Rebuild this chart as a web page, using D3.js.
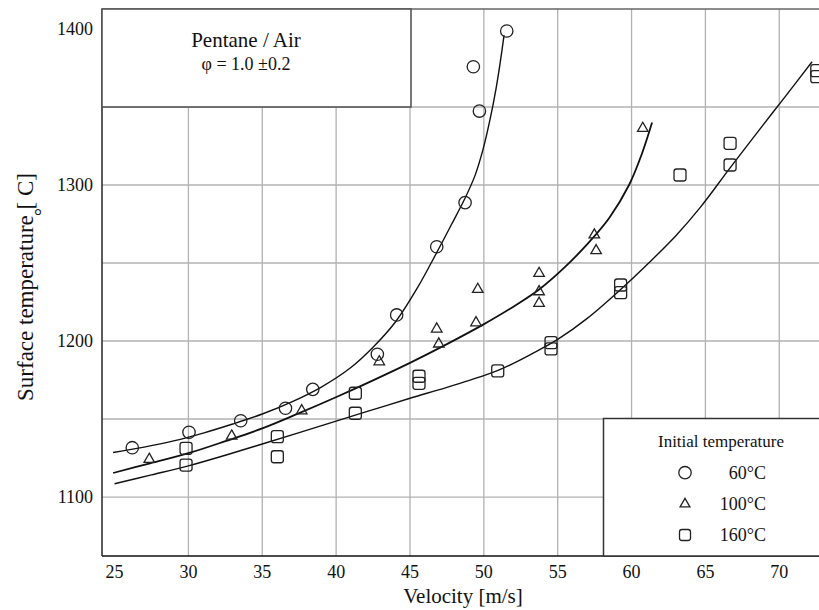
<!DOCTYPE html>
<html>
<head>
<meta charset="utf-8">
<script src="https://cdn.jsdelivr.net/npm/d3@7"></script>
<style>
  html, body { margin: 0; padding: 0; background: #fff; }
  svg { display: block; }
  text { font-family: "Liberation Serif", "Times New Roman", serif; fill: #111; }
</style>
</head>
<body>
<svg id="chart" width="819" height="610"></svg>
<script>
// ---------- data ----------
const xTickValues = [25, 30, 35, 40, 45, 50, 55, 60, 65, 70];
const yTickValues = [1100, 1200, 1300, 1400];
const xGridValues = [30, 35, 40, 45, 50, 55, 60, 65, 70];
const yGridValues = [1100, 1150, 1200, 1250, 1300, 1350];

// 60 °C (circles)
const vel60 = [26.20, 30.04, 33.54, 36.57, 38.42, 42.79, 44.10, 46.81, 48.73, 49.70, 49.29, 51.55];
const temp60 = [1131.6, 1141.5, 1148.9, 1156.9, 1169.0, 1191.5, 1216.7, 1260.4, 1288.7, 1347.4, 1375.8, 1398.7];

// 100 °C (triangles)
const vel100 = [27.35, 32.93, 37.67, 42.92, 46.81, 46.95, 49.47, 49.59, 53.74, 53.74, 53.74, 57.48, 57.60, 60.76];
const temp100 = [1124.2, 1139.1, 1155.3, 1186.7, 1207.7, 1198.1, 1211.7, 1233.1, 1243.4, 1231.6, 1224.2, 1268.0, 1257.9, 1336.3];

// 160 °C (squares)
const vel160 = [29.84, 29.84, 36.02, 36.02, 41.30, 41.30, 45.61, 45.61, 50.94, 54.55, 54.55, 59.26, 59.26, 63.28, 66.67, 66.67, 72.54, 72.54];
const temp160 = [1131.2, 1120.5, 1138.7, 1125.8, 1166.5, 1153.7, 1177.4, 1172.9, 1180.8, 1199.0, 1194.9, 1235.9, 1231.0, 1306.4, 1326.7, 1312.8, 1373.3, 1369.4];

// fitted curves
const fitVel60 = [24.9, 27, 29, 31, 33, 35, 37, 39, 41, 42.5, 44, 45.5, 46.8, 47.8, 48.7, 49.4, 49.95, 50.42, 50.83, 51.1, 51.37];
const fitTemp60 = [1128.5, 1132.0, 1136.0, 1141.0, 1146.8, 1153.2, 1161.0, 1170.5, 1183.0, 1196.0, 1212.0, 1234.0, 1256.5, 1274.5, 1291.0, 1306.0, 1323.0, 1342.0, 1362.0, 1378.0, 1396.0];

const fitVel100 = [24.9, 27.4, 30.11, 32.5, 35, 37.5, 40.06, 42.5, 45, 47.5, 49.95, 52, 53.74, 55.5, 57.19, 58.5, 59.83, 60.7, 61.39];
const fitTemp100 = [1115.4, 1121.6, 1128.4, 1135.8, 1144.0, 1153.8, 1164.3, 1174.8, 1186.0, 1198.0, 1210.5, 1222.0, 1233.0, 1247.5, 1264.0, 1279.0, 1300.0, 1320.0, 1340.0];

const fitVel160 = [25, 27.5, 30, 32.5, 35, 37.5, 40, 42.5, 45, 47.5, 50, 51, 52, 53.5, 55, 57, 59.2, 61.25, 63, 64.64, 66.67, 68.7, 70.39, 72.22];
const fitTemp160 = [1108.5, 1114.2, 1120.0, 1126.8, 1134.0, 1141.3, 1148.7, 1156.0, 1163.3, 1170.3, 1177.8, 1181.3, 1185.6, 1193.0, 1201.0, 1214.5, 1232.5, 1250.8, 1267.5, 1285.5, 1311.0, 1336.0, 1356.5, 1379.0];

const legendLabels = ["60°C", "100°C", "160°C"];
const titleLine1 = "Pentane / Air";
const titleLine2 = "φ = 1.0 ±0.2";

// ---------- drawing ----------
const svg = d3.select("#chart");
const L = 102, R = 819, T = 9, B = 556;

const x = d3.scaleLinear().domain([24.15, 72.69]).range([L, R]);
const y = d3.scaleLinear().domain([1062.2, 1412.8]).range([B, T]);

svg.append("rect").attr("width", 819).attr("height", 610).attr("fill", "#fff");

// grid
const grid = svg.append("g").attr("stroke", "#b2b2b2").attr("stroke-width", 1.3);
grid.selectAll("line.v").data(xGridValues).join("line")
  .attr("x1", d => x(d)).attr("x2", d => x(d)).attr("y1", T).attr("y2", B);
grid.selectAll("line.h").data(yGridValues).join("line")
  .attr("x1", L).attr("x2", R).attr("y1", d => y(d)).attr("y2", d => y(d));

// frame
const frame = svg.append("g").attr("stroke", "#333").attr("stroke-width", 1.6).attr("fill", "none");
frame.append("line").attr("x1", L).attr("x2", L).attr("y1", T).attr("y2", B);
frame.append("line").attr("x1", L).attr("x2", R).attr("y1", B).attr("y2", B).attr("stroke", "#111");
frame.append("line").attr("x1", L).attr("x2", R).attr("y1", T).attr("y2", T).attr("stroke", "#666");

// tick labels
svg.append("g").selectAll("text").data(xTickValues).join("text")
  .attr("x", d => x(d)).attr("y", 578)
  .attr("text-anchor", "middle").attr("font-size", 18)
  .text(d => d);
svg.append("g").selectAll("text").data(yTickValues).join("text")
  .attr("x", 93).attr("y", d => y(d) + 6)
  .attr("text-anchor", "end").attr("font-size", 18)
  .text(d => d);

// axis titles
svg.append("text").attr("x", 463).attr("y", 603)
  .attr("text-anchor", "middle").attr("font-size", 21)
  .text("Velocity [m/s]");
svg.append("text").attr("transform", "translate(33,287) rotate(-90)")
  .attr("text-anchor", "middle").attr("font-size", 23)
  .text("Surface temperature [ C]");
svg.append("text").attr("x", 38).attr("y", 223)
  .attr("text-anchor", "middle").attr("font-size", 20)
  .text("°");

// title box (its bottom edge sits on the 1350 grid line)
svg.append("rect").attr("x", L).attr("y", T).attr("width", 309).attr("height", y(1350) - T)
  .attr("fill", "#fff").attr("stroke", "#555").attr("stroke-width", 1.6);
svg.append("text").attr("x", 246).attr("y", 47).attr("text-anchor", "middle")
  .attr("font-size", 21).text(titleLine1);
svg.append("text").attr("x", 246).attr("y", 70).attr("text-anchor", "middle")
  .attr("font-size", 18).text(titleLine2);

// fitted curves
const line = d3.line().x(d => x(d[0])).y(d => y(d[1])).curve(d3.curveCatmullRom.alpha(0.5));
const curves = [
  {v: fitVel60, t: fitTemp60, w: 1.4},
  {v: fitVel100, t: fitTemp100, w: 1.8},
  {v: fitVel160, t: fitTemp160, w: 1.4}
];
curves.forEach(c => {
  svg.append("path").datum(d3.zip(c.v, c.t))
    .attr("d", line).attr("fill", "none").attr("stroke", "#111").attr("stroke-width", c.w);
});

// markers
const mk = svg.append("g").attr("fill", "none").attr("stroke", "#222").attr("stroke-width", 1.3);
mk.selectAll("circle").data(d3.zip(vel60, temp60)).join("circle")
  .attr("cx", d => x(d[0])).attr("cy", d => y(d[1])).attr("r", 6.2);
const tri = d3.symbol().type(d3.symbolTriangle).size(48);
mk.selectAll("path.tri").data(d3.zip(vel100, temp100)).join("path").attr("class", "tri")
  .attr("d", tri).attr("transform", d => `translate(${x(d[0])},${y(d[1])})`);
mk.selectAll("rect.sq").data(d3.zip(vel160, temp160)).join("rect").attr("class", "sq")
  .attr("x", d => x(d[0]) - 6).attr("y", d => y(d[1]) - 6)
  .attr("width", 12).attr("height", 12).attr("rx", 2.5);

// legend box
svg.append("rect").attr("x", 603.5).attr("y", 418.5).attr("width", 230).attr("height", 137.5)
  .attr("fill", "#fff").attr("stroke", "#333").attr("stroke-width", 1.5);
svg.append("text").attr("x", 721).attr("y", 447).attr("text-anchor", "middle")
  .attr("font-size", 17).text("Initial temperature");
const lg = svg.append("g");
const rowY = [472.7, 504, 535];
lg.selectAll("text").data(legendLabels).join("text")
  .attr("x", 766).attr("y", (d, i) => rowY[i] + 6).attr("text-anchor", "end")
  .attr("font-size", 18).text(d => d);
const lm = lg.append("g").attr("fill", "none").attr("stroke", "#222").attr("stroke-width", 1.3);
lm.append("circle").attr("cx", 685).attr("cy", rowY[0]).attr("r", 6.2);
lm.append("path").attr("d", d3.symbol().type(d3.symbolTriangle).size(42))
  .attr("transform", `translate(685,${rowY[1]})`);
lm.append("rect").attr("x", 679.5).attr("y", rowY[2] - 5.5).attr("width", 11).attr("height", 11).attr("rx", 2.5);
</script>
</body>
</html>
